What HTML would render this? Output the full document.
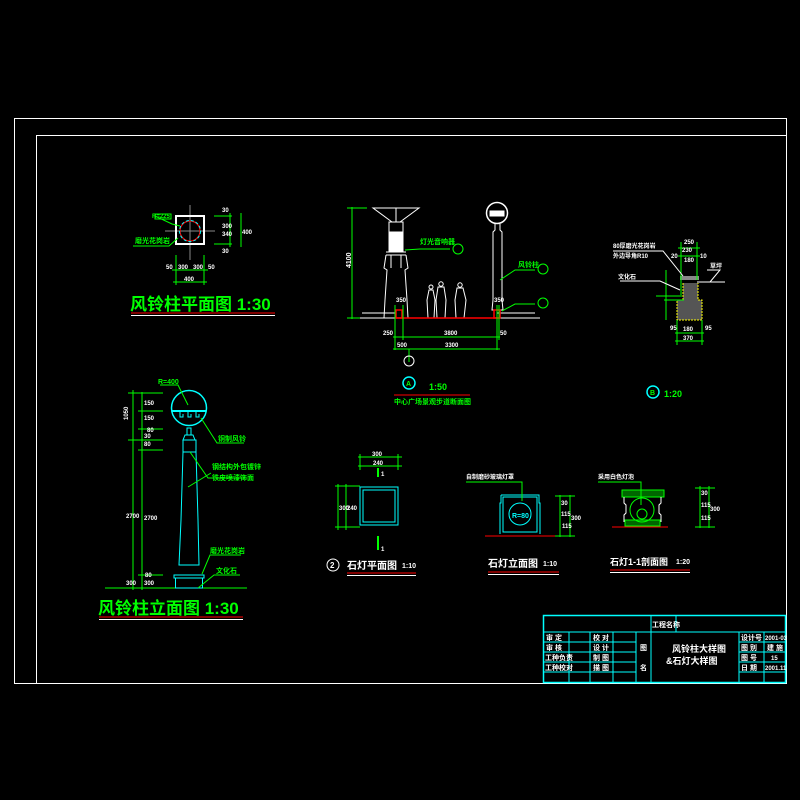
<!DOCTYPE html>
<html><head><meta charset="utf-8"><style>
html,body{margin:0;padding:0;background:#000;width:800px;height:800px;overflow:hidden}
svg{display:block}
text{font-family:"Liberation Sans","Noto Sans CJK SC",sans-serif;font-weight:bold}
</style></head><body>
<svg width="800" height="800" viewBox="0 0 800 800" xmlns="http://www.w3.org/2000/svg">
<rect width="800" height="800" fill="#000"/>
<rect x="14.5" y="118.5" width="772" height="565" fill="none" stroke="#fff" stroke-width="1"/>
<rect x="36.5" y="135.5" width="750" height="548" fill="none" stroke="#fff" stroke-width="1"/>

<!-- ===== Plan view ===== -->
<g>
<line x1="190" y1="205" x2="190" y2="260" stroke="#888"/>
<line x1="165" y1="231" x2="215" y2="231" stroke="#888"/>
<rect x="176" y="216" width="28" height="28" fill="none" stroke="#fff" stroke-width="2"/>
<circle cx="190" cy="231" r="10" fill="none" stroke="#f00" stroke-width="1.2"/>
<circle cx="190" cy="231" r="10.5" fill="none" stroke="#0ff" stroke-width="1" stroke-dasharray="3 2"/>
<path d="M155 216 L172 224 L180 226" stroke="#0f0" fill="none"/>
<rect x="155" y="214" width="16" height="5" fill="none" stroke="#0f0"/>
<text x="152" y="218" fill="#0f0" font-size="6">R=225</text>
<path d="M133 246 L169 246 L178 238" stroke="#0f0" fill="none"/>
<text x="135" y="243" fill="#0f0" font-size="7">磨光花岗岩</text>
<g stroke="#0f0"><line x1="214" y1="216" x2="232" y2="216"/><line x1="214" y1="244" x2="232" y2="244"/><line x1="230" y1="213" x2="230" y2="247"/><line x1="241" y1="213" x2="241" y2="247"/>
<line x1="176" y1="255" x2="176" y2="285"/><line x1="204" y1="255" x2="204" y2="285"/><line x1="172" y1="270" x2="208" y2="270"/><line x1="173" y1="282" x2="207" y2="282"/></g>
<g fill="#fff" font-size="6"><text x="222" y="212">30</text><text x="222" y="228">300</text><text x="222" y="236">340</text><text x="242" y="234">400</text><text x="222" y="253">30</text>
<text x="166" y="269">50</text><text x="178" y="269">300</text><text x="193" y="269">300</text><text x="208" y="269">50</text><text x="184" y="281">400</text></g>
<text x="130" y="310" fill="#0f0" font-size="17">风铃柱平面图 1:30</text>
<line x1="131" y1="313" x2="275" y2="313" stroke="#f00"/>
<line x1="131" y1="315.5" x2="275" y2="315.5" stroke="#fff"/>
</g>

<!-- ===== Elevation ===== -->
<g>
<g stroke="#0f0"><line x1="133" y1="390" x2="133" y2="590"/><line x1="142" y1="392" x2="142" y2="590"/>
<line x1="128" y1="393" x2="163" y2="393"/><line x1="138" y1="411" x2="163" y2="411"/><line x1="138" y1="429" x2="163" y2="429"/><line x1="128" y1="440" x2="163" y2="440"/><line x1="138" y1="450" x2="163" y2="450"/><line x1="138" y1="575" x2="163" y2="575"/>
<line x1="105" y1="588" x2="247" y2="588"/></g>
<g fill="#fff" font-size="6"><text x="126" y="418" transform="rotate(-90 128 418)">1050</text><text x="144" y="405">150</text><text x="144" y="420">150</text><text x="147" y="432">80</text><text x="144" y="438">30</text><text x="144" y="446">80</text><text x="126" y="518">2700</text><text x="144" y="520">2700</text><text x="145" y="577">80</text><text x="126" y="585">300</text><text x="144" y="585">300</text></g>
<circle cx="189" cy="408" r="17.5" fill="none" stroke="#0ff" stroke-width="1.5"/>
<line x1="172" y1="411" x2="206" y2="411" stroke="#0ff" stroke-width="2"/>
<g stroke="#0ff" fill="none"><path d="M180 412v5h3v-3M188 412v5h3v-3M196 412v5h3v-3"/>
<rect x="187" y="428" width="4" height="7"/><path d="M185 435 L183 440 L195 440 L193 435Z"/>
<rect x="183" y="440" width="13" height="12"/>
<path d="M183 452 L181 520 L179 565 L199 565 L198 520 L196 452"/>
<rect x="174" y="575" width="30" height="3"/><rect x="175.5" y="578" width="27" height="10"/></g>
<g stroke="#0f0" fill="none"><path d="M160 385 L178 385 L188 405"/><path d="M201 418 L217 443 L244 443"/><path d="M190 452 L208 478 L245 478"/><path d="M188 487 L211 473"/><path d="M202 574 L210 555 L241 555"/><path d="M198 588 L214 575 L240 575"/></g>
<g fill="#0f0" font-size="7"><text x="158" y="384">R=400</text><text x="218" y="441">铜制风铃</text><text x="212" y="469">钢结构外包镀锌</text><text x="212" y="480">铁皮喷漆饰面</text><text x="210" y="553">磨光花岗岩</text><text x="216" y="573">文化石</text></g>
<text x="98" y="614" fill="#0f0" font-size="17">风铃柱立面图 1:30</text>
<line x1="99" y1="617" x2="243" y2="617" stroke="#f00"/>
<line x1="99" y1="619.5" x2="243" y2="619.5" stroke="#fff"/>
</g>

<!-- ===== Section A ===== -->
<g>
<line x1="352" y1="207" x2="352" y2="319" stroke="#0f0"/>
<line x1="347" y1="208" x2="367" y2="208" stroke="#0f0"/><line x1="347" y1="318" x2="367" y2="318" stroke="#0f0"/>
<text x="351" y="268" fill="#fff" font-size="7" transform="rotate(-90 351 268)">4100</text>
<g stroke="#fff" fill="none">
<path d="M373 208 L419 208 L400 222 L392 222 Z"/><line x1="396" y1="208" x2="396" y2="222"/>
<rect x="389" y="222" width="14" height="10"/><rect x="389" y="232" width="14" height="20" fill="#fff"/>
<path d="M386 252 L406 252 M386 255 L406 255"/>
<path d="M386 255 L384 268 L387 270 L385 300 L384 318 M406 255 L408 268 L405 270 L407 300 L408 318"/>
<path d="M391 255 L391 268 M401 255 L401 268"/>
<path d="M362 313 L396 313 M497 313 L535 313"/>
<circle cx="497" cy="213" r="10.5" stroke-width="1.5"/><rect x="490" y="211" width="14" height="5" fill="#fff"/>
<path d="M495 224 L495 230 L493 232 L493 300 L492 310 L503 310 L502 300 L502 232 L500 230 L500 224"/>
<circle cx="431" cy="287" r="2"/><path d="M428 318 L427 300 L429 290 L433 290 L435 300 L434 318"/>
<circle cx="441" cy="284" r="2.2"/><path d="M437 318 L436 300 L438 287 L444 287 L446 300 L445 318"/>
<circle cx="460" cy="285" r="2.2"/><path d="M456 318 L455 300 L457 288 L463 288 L466 300 L464 318"/>
</g>
<line x1="360" y1="318" x2="540" y2="318" stroke="#fff"/>
<g stroke="#f00" fill="none" stroke-width="1.5"><line x1="396" y1="318" x2="500" y2="318"/><rect x="396" y="310" width="6" height="8"/><rect x="494" y="310" width="6" height="8"/></g>
<g stroke="#0f0" fill="none"><path d="M405 250 L420 249 L450 249"/><circle cx="458" cy="249" r="5"/><path d="M500 280 L515 270 L535 270"/><circle cx="543" cy="269" r="5"/><path d="M502 311 L515 304 L535 304"/><circle cx="543" cy="303" r="5"/>
<line x1="395" y1="305" x2="395" y2="350"/><line x1="403" y1="305" x2="403" y2="340"/><line x1="497" y1="305" x2="497" y2="350"/><line x1="499" y1="305" x2="499" y2="340"/>
<line x1="393" y1="337" x2="500" y2="337"/><line x1="393" y1="349" x2="500" y2="349"/><line x1="409" y1="349" x2="409" y2="362"/></g>
<circle cx="409" cy="361" r="5" fill="none" stroke="#fff"/>
<g fill="#0f0" font-size="7"><text x="420" y="244">灯光音响器</text><text x="518" y="267">风铃柱</text></g>
<g fill="#fff" font-size="6"><text x="396" y="302">350</text><text x="494" y="302">350</text><text x="383" y="335">250</text><text x="444" y="335">3800</text><text x="500" y="335">50</text><text x="397" y="347">500</text><text x="445" y="347">3300</text></g>
<circle cx="409" cy="383" r="6" fill="none" stroke="#0ff" stroke-width="1.5"/>
<text x="406" y="386" fill="#0f0" font-size="7">A</text>
<text x="429" y="390" fill="#0f0" font-size="9">1:50</text>
<line x1="394" y1="395" x2="470" y2="395" stroke="#f00"/>
<text x="394" y="404" fill="#0f0" font-size="7">中心广场景观步道断面图</text>
</g>

<!-- ===== Detail B ===== -->
<g>
<rect x="683" y="283" width="15" height="18" fill="#555"/><rect x="677" y="300" width="25" height="20" fill="#555"/>
<path d="M683 283 L683 300 L677 300 L677 320 L702 320 L702 300 L698 300 L698 283" fill="none" stroke="#ff0" stroke-dasharray="2 1"/>
<rect x="680" y="276" width="19" height="4" fill="#888"/>
<g stroke="#0f0" fill="none"><line x1="681" y1="242" x2="681" y2="295"/><line x1="697" y1="242" x2="697" y2="280"/><line x1="678" y1="248" x2="700" y2="248"/><line x1="678" y1="256" x2="700" y2="256"/>
<line x1="666" y1="270" x2="666" y2="320"/><line x1="664" y1="300" x2="684" y2="300"/><line x1="656" y1="296" x2="682" y2="296"/>
<line x1="677" y1="320" x2="677" y2="345"/><line x1="702" y1="320" x2="702" y2="345"/><line x1="675" y1="333" x2="704" y2="333"/><line x1="675" y1="341" x2="704" y2="341"/></g>
<path d="M613 251 L663 251 L683 276 M620 281 L660 281 L680 290 M707 270 L720 270 L710 282" stroke="#fff" fill="none"/>
<line x1="697" y1="282" x2="725" y2="282" stroke="#fff"/>
<g fill="#fff" font-size="6"><text x="613" y="248">80厚磨光花岗岩</text><text x="613" y="258">外边导角R10</text><text x="618" y="279">文化石</text><text x="710" y="268">草坪</text>
<text x="684" y="244">250</text><text x="682" y="252">230</text><text x="684" y="262">180</text><text x="671" y="258">20</text><text x="700" y="258">10</text><text x="670" y="330">95</text><text x="683" y="331">180</text><text x="705" y="330">95</text><text x="683" y="340">370</text></g>
<circle cx="653" cy="392" r="6" fill="none" stroke="#0ff" stroke-width="1.5"/><text x="650" y="395" fill="#0f0" font-size="7">B</text>
<text x="664" y="397" fill="#0f0" font-size="9">1:20</text>
</g>

<!-- ===== Stone lamp plan ===== -->
<g>
<rect x="360" y="487" width="38" height="38" fill="none" stroke="#0ff"/><rect x="363" y="490" width="32" height="32" fill="none" stroke="#0ff"/>
<g stroke="#0f0"><line x1="358" y1="457" x2="402" y2="457"/><line x1="358" y1="466" x2="402" y2="466"/><line x1="360" y1="454" x2="360" y2="470"/><line x1="398" y1="454" x2="398" y2="470"/>
<line x1="335" y1="486" x2="360" y2="486"/><line x1="335" y1="527" x2="360" y2="527"/><line x1="338" y1="484" x2="338" y2="530"/><line x1="346" y1="484" x2="346" y2="530"/>
<line x1="378" y1="468" x2="378" y2="477" stroke-width="2"/><line x1="378" y1="536" x2="378" y2="550" stroke-width="2"/></g>
<g fill="#fff" font-size="6"><text x="372" y="456">300</text><text x="373" y="465">240</text><text x="339" y="510">300</text><text x="347" y="510">240</text><text x="381" y="476">1</text><text x="381" y="551">1</text></g>
<circle cx="333" cy="565" r="6" fill="none" stroke="#fff"/><text x="330" y="568" fill="#fff" font-size="8">2</text>
<text x="347" y="569" fill="#fff" font-size="10">石灯平面图</text><text x="402" y="568" fill="#fff" font-size="7">1:10</text>
<line x1="347" y1="573" x2="416" y2="573" stroke="#f00"/><line x1="347" y1="575.5" x2="416" y2="575.5" stroke="#fff"/>
</g>

<!-- ===== Stone lamp elevation ===== -->
<g>
<g stroke="#0ff" fill="none"><path d="M501 495 L539 495 L539 503 L540 503 L540 534 M501 495 L501 503 L500 503 L500 534"/><rect x="503" y="497" width="34" height="35"/><circle cx="520" cy="514" r="11"/></g>
<text x="512" y="518" fill="#0ff" font-size="7">R=80</text>
<line x1="485" y1="536" x2="560" y2="536" stroke="#f00"/>
<path d="M466 482 L522 482 L522 501" stroke="#0f0" fill="none"/>
<text x="466" y="479" fill="#fff" font-size="6">自制磨砂玻璃灯罩</text>
<g stroke="#0f0"><line x1="560" y1="495" x2="560" y2="537"/><line x1="570" y1="495" x2="570" y2="537"/><line x1="555" y1="496" x2="575" y2="496"/><line x1="555" y1="536" x2="575" y2="536"/></g>
<g fill="#fff" font-size="6"><text x="561" y="505">30</text><text x="561" y="516">115</text><text x="562" y="528">115</text><text x="571" y="520">300</text></g>
<text x="488" y="567" fill="#fff" font-size="10">石灯立面图</text><text x="543" y="566" fill="#fff" font-size="7">1:10</text>
<line x1="488" y1="572" x2="559" y2="572" stroke="#f00"/><line x1="488" y1="574.5" x2="559" y2="574.5" stroke="#fff"/>
</g>

<!-- ===== Stone lamp section ===== -->
<g>
<rect x="622" y="490" width="42" height="7" fill="#060" stroke="#0f0"/>
<rect x="625" y="520" width="35" height="6" fill="#060" stroke="#0f0"/>
<path d="M624 497 L624 503 L626 505 L626 513 L624 515 L624 522 M661 497 L661 503 L659 505 L659 513 L661 515 L661 522" stroke="#fff" fill="none"/>
<circle cx="642" cy="510" r="12" fill="none" stroke="#0f0"/><circle cx="642" cy="514" r="5" fill="none" stroke="#0f0"/>
<line x1="612" y1="527" x2="668" y2="527" stroke="#f00"/>
<path d="M598 482 L641 482 L641 505" stroke="#0f0" fill="none"/>
<text x="598" y="479" fill="#fff" font-size="6">采用白色灯泡</text>
<g stroke="#0f0"><line x1="700" y1="486" x2="700" y2="528"/><line x1="709" y1="486" x2="709" y2="528"/><line x1="695" y1="488" x2="715" y2="488"/><line x1="695" y1="527" x2="715" y2="527"/></g>
<g fill="#fff" font-size="6"><text x="701" y="495">30</text><text x="701" y="507">115</text><text x="701" y="520">115</text><text x="710" y="511">300</text></g>
<text x="610" y="565" fill="#fff" font-size="9">石灯1-1剖面图</text><text x="676" y="564" fill="#fff" font-size="7">1:20</text>
<line x1="610" y1="570" x2="690" y2="570" stroke="#f00"/><line x1="610" y1="572.5" x2="690" y2="572.5" stroke="#fff"/>
</g>

<!-- ===== Title block ===== -->
<g stroke="#0ff" fill="none" stroke-width="1">
<rect x="543.5" y="615.5" width="242" height="67" stroke-width="1.5"/>
<line x1="543" y1="632" x2="786" y2="632"/>
<line x1="651" y1="615" x2="651" y2="632"/><line x1="676" y1="615" x2="676" y2="632"/>
<line x1="569" y1="632" x2="569" y2="683"/><line x1="590" y1="632" x2="590" y2="683"/><line x1="613" y1="632" x2="613" y2="683"/><line x1="636" y1="632" x2="636" y2="683"/><line x1="651" y1="632" x2="651" y2="683"/>
<line x1="739" y1="632" x2="739" y2="683"/><line x1="764" y1="632" x2="764" y2="683"/>
<line x1="543" y1="642" x2="636" y2="642"/><line x1="543" y1="652" x2="636" y2="652"/><line x1="543" y1="662" x2="636" y2="662"/><line x1="543" y1="672" x2="636" y2="672"/>
<line x1="739" y1="642" x2="786" y2="642"/><line x1="739" y1="652" x2="786" y2="652"/><line x1="739" y1="662" x2="786" y2="662"/><line x1="739" y1="672" x2="786" y2="672"/>
</g>
<g fill="#fff" font-size="7">
<text x="652" y="627">工程名称</text>
<text x="546" y="640">审 定</text><text x="593" y="640">校 对</text>
<text x="546" y="650">审 核</text><text x="593" y="650">设 计</text>
<text x="545" y="660">工种负责</text><text x="593" y="660">制 图</text>
<text x="545" y="670">工种校对</text><text x="593" y="670">描 图</text>
<text x="640" y="650">图</text><text x="640" y="670">名</text>
<text x="672" y="652" font-size="9">风铃柱大样图</text><text x="666" y="664" font-size="9">&amp;石灯大样图</text>
<text x="741" y="640">设计号</text><text x="765" y="640" font-size="6">2001-03</text>
<text x="741" y="650">图 别</text><text x="767" y="650">建 施</text>
<text x="741" y="660">图 号</text><text x="771" y="660" font-size="6">15</text>
<text x="741" y="670">日 期</text><text x="765" y="670" font-size="6">2001.11</text>
</g>
</svg>
</body></html>
